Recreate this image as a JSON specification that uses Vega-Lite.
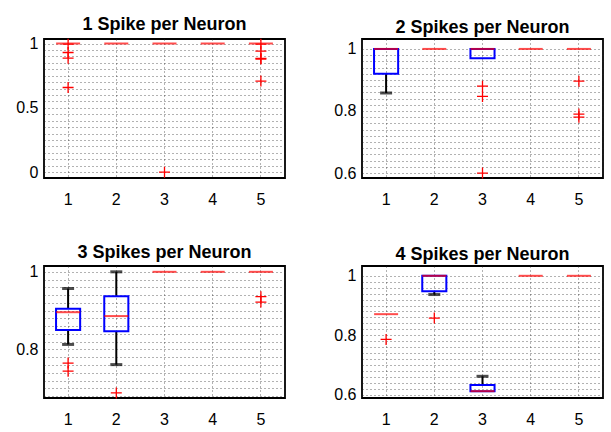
{
  "$schema": "https://vega.github.io/schema/vega-lite/v6.json",
  "padding": {"left": 14, "top": 14, "right": 0, "bottom": 0},
  "background": "white",
  "data": {"values": [
    {"p":1,"g":1,"kind":"median","v":1},
    {"p":1,"g":2,"kind":"median","v":1},
    {"p":1,"g":3,"kind":"median","v":1},
    {"p":1,"g":4,"kind":"median","v":1},
    {"p":1,"g":5,"kind":"median","v":1},
    {"p":1,"g":1,"kind":"outlier","v":0.995},
    {"p":1,"g":1,"kind":"outlier","v":0.93},
    {"p":1,"g":1,"kind":"outlier","v":0.886},
    {"p":1,"g":1,"kind":"outlier","v":0.658},
    {"p":1,"g":3,"kind":"outlier","v":0.0},
    {"p":1,"g":5,"kind":"outlier","v":0.995},
    {"p":1,"g":5,"kind":"outlier","v":0.941},
    {"p":1,"g":5,"kind":"outlier","v":0.885},
    {"p":1,"g":5,"kind":"outlier","v":0.879},
    {"p":1,"g":5,"kind":"outlier","v":0.708},

    {"p":2,"g":1,"kind":"box","v":0.92,"v2":1},
    {"p":2,"g":3,"kind":"box","v":0.97,"v2":1},
    {"p":2,"g":1,"kind":"whisker","v":0.92,"v2":0.858},
    {"p":2,"g":1,"kind":"cap","v":0.858},
    {"p":2,"g":1,"kind":"median","v":1},
    {"p":2,"g":2,"kind":"median","v":1},
    {"p":2,"g":3,"kind":"median","v":1},
    {"p":2,"g":4,"kind":"median","v":1},
    {"p":2,"g":5,"kind":"median","v":1},
    {"p":2,"g":3,"kind":"outlier","v":0.88},
    {"p":2,"g":3,"kind":"outlier","v":0.847},
    {"p":2,"g":3,"kind":"outlier","v":0.6},
    {"p":2,"g":5,"kind":"outlier","v":0.896},
    {"p":2,"g":5,"kind":"outlier","v":0.79},
    {"p":2,"g":5,"kind":"outlier","v":0.78},

    {"p":3,"g":1,"kind":"box","v":0.85,"v2":0.905},
    {"p":3,"g":2,"kind":"box","v":0.847,"v2":0.937},
    {"p":3,"g":1,"kind":"whisker","v":0.85,"v2":0.813},
    {"p":3,"g":1,"kind":"whisker","v":0.905,"v2":0.957},
    {"p":3,"g":2,"kind":"whisker","v":0.847,"v2":0.761},
    {"p":3,"g":2,"kind":"whisker","v":0.937,"v2":1.0},
    {"p":3,"g":1,"kind":"cap","v":0.813},
    {"p":3,"g":1,"kind":"cap","v":0.957},
    {"p":3,"g":2,"kind":"cap","v":0.761},
    {"p":3,"g":2,"kind":"cap","v":1.0},
    {"p":3,"g":1,"kind":"median","v":0.896},
    {"p":3,"g":2,"kind":"median","v":0.886},
    {"p":3,"g":3,"kind":"median","v":1},
    {"p":3,"g":4,"kind":"median","v":1},
    {"p":3,"g":5,"kind":"median","v":1},
    {"p":3,"g":1,"kind":"outlier","v":0.765},
    {"p":3,"g":1,"kind":"outlier","v":0.744},
    {"p":3,"g":2,"kind":"outlier","v":0.688},
    {"p":3,"g":5,"kind":"outlier","v":0.936},
    {"p":3,"g":5,"kind":"outlier","v":0.922},

    {"p":4,"g":2,"kind":"box","v":0.948,"v2":1},
    {"p":4,"g":3,"kind":"box","v":0.612,"v2":0.633},
    {"p":4,"g":2,"kind":"whisker","v":0.948,"v2":0.937},
    {"p":4,"g":3,"kind":"whisker","v":0.633,"v2":0.662},
    {"p":4,"g":2,"kind":"cap","v":0.937},
    {"p":4,"g":3,"kind":"cap","v":0.662},
    {"p":4,"g":1,"kind":"median","v":0.871},
    {"p":4,"g":2,"kind":"median","v":1},
    {"p":4,"g":3,"kind":"median","v":0.612},
    {"p":4,"g":4,"kind":"median","v":1},
    {"p":4,"g":5,"kind":"median","v":1},
    {"p":4,"g":1,"kind":"outlier","v":0.786},
    {"p":4,"g":2,"kind":"outlier","v":0.858}
  ]},
  "config": {
    "view": {"stroke": "black", "strokeWidth": 1.8},
    "font": "Liberation Sans",
    "title": {"font": "Liberation Sans", "fontSize": 18, "fontWeight": "bold", "color": "black", "offset": 2},
    "axis": {"labelFont": "Liberation Sans", "labelFontSize": 16, "labelColor": "black", "domain": false, "ticks": false, "gridDash": [1, 3], "gridColor": "#222", "gridOpacity": 0.7, "gridWidth": 1, "labelPadding": 6, "labelOverlap": false, "format": "~g"},
    "axisX": {"labelPadding": 13}
  },
  "columns": 2,
  "spacing": {"row": 88, "column": 77},
  "bounds": "flush",
  "concat": [
        {
          "width": 241, "height": 139,
          "title": "1 Spike per Neuron",
          "transform": [{"filter": "datum.p == 1"}],
          "encoding": {
            "x": {"field": "g", "type": "ordinal", "scale": {"domain": [1,2,3,4,5], "paddingInner": 0, "paddingOuter": 0}, "axis": {"title": null, "labelAngle": 0, "bandPosition": 0.5, "grid": true}},
            "y": {"field": "v", "type": "quantitative", "scale": {"domain": [-0.045, 1.035], "nice": false, "zero": false}, "axis": {"title": null, "grid": true, "values": [0,0.05,0.1,0.15,0.2,0.25,0.3,0.35,0.4,0.45,0.5,0.55,0.6,0.65,0.7,0.75,0.8,0.85,0.9,0.95,1], "labelExpr": "datum.value == 0 || datum.value == 0.5 || datum.value == 1 ? datum.label : ''"}}
          },
          "layer": [
            {"transform": [{"filter": "datum.kind == 'whisker'"}], "mark": {"type": "rule", "color": "black", "strokeWidth": 2}, "encoding": {"y2": {"field": "v2"}}},
            {"transform": [{"filter": "datum.kind == 'cap'"}], "mark": {"type": "tick", "color": "black", "size": 12, "thickness": 3}},
            {"transform": [{"filter": "datum.kind == 'box'"}], "mark": {"type": "bar", "filled": false, "color": "#0000ff", "strokeWidth": 2, "width": {"band": 0.5}}, "encoding": {"y2": {"field": "v2"}}},
            {"transform": [{"filter": "datum.kind == 'median'"}], "mark": {"type": "tick", "color": "#ff0000", "size": 24, "thickness": 2}},
            {"transform": [{"filter": "datum.kind == 'outlier'"}], "mark": {"type": "point", "shape": "M-1,0L1,0M0,-1L0,1", "size": 121, "filled": false, "color": "#ff0000", "strokeWidth": 1.3, "opacity": 1}}
          ]
        },
        {
          "width": 241, "height": 139,
          "title": "2 Spikes per Neuron",
          "transform": [{"filter": "datum.p == 2"}],
          "encoding": {
            "x": {"field": "g", "type": "ordinal", "scale": {"domain": [1,2,3,4,5], "paddingInner": 0, "paddingOuter": 0}, "axis": {"title": null, "labelAngle": 0, "bandPosition": 0.5, "grid": true}},
            "y": {"field": "v", "type": "quantitative", "scale": {"domain": [0.584, 1.032], "nice": false, "zero": false}, "axis": {"title": null, "grid": true, "values": [0.6,0.62,0.64,0.66,0.68,0.7,0.72,0.74,0.76,0.78,0.8,0.82,0.84,0.86,0.88,0.9,0.92,0.94,0.96,0.98,1], "labelExpr": "datum.value == 0.6 || datum.value == 0.8 || datum.value == 1 ? datum.label : ''"}}
          },
          "layer": [
            {"transform": [{"filter": "datum.kind == 'whisker'"}], "mark": {"type": "rule", "color": "black", "strokeWidth": 2}, "encoding": {"y2": {"field": "v2"}}},
            {"transform": [{"filter": "datum.kind == 'cap'"}], "mark": {"type": "tick", "color": "black", "size": 12, "thickness": 3}},
            {"transform": [{"filter": "datum.kind == 'box'"}], "mark": {"type": "bar", "filled": false, "color": "#0000ff", "strokeWidth": 2, "width": {"band": 0.5}}, "encoding": {"y2": {"field": "v2"}}},
            {"transform": [{"filter": "datum.kind == 'median'"}], "mark": {"type": "tick", "color": "#ff0000", "size": 24, "thickness": 2}},
            {"transform": [{"filter": "datum.kind == 'outlier'"}], "mark": {"type": "point", "shape": "M-1,0L1,0M0,-1L0,1", "size": 121, "filled": false, "color": "#ff0000", "strokeWidth": 1.3, "opacity": 1}}
          ]
        },
        {
          "width": 241, "height": 132,
          "title": "3 Spikes per Neuron",
          "transform": [{"filter": "datum.p == 3"}],
          "encoding": {
            "x": {"field": "g", "type": "ordinal", "scale": {"domain": [1,2,3,4,5], "paddingInner": 0, "paddingOuter": 0}, "axis": {"title": null, "labelAngle": 0, "bandPosition": 0.5, "grid": true}},
            "y": {"field": "v", "type": "quantitative", "scale": {"domain": [0.675, 1.015], "nice": false, "zero": false}, "axis": {"title": null, "grid": true, "values": [0.68,0.7,0.72,0.74,0.76,0.78,0.8,0.82,0.84,0.86,0.88,0.9,0.92,0.94,0.96,0.98,1], "labelExpr": "datum.value == 0.8 || datum.value == 1 ? datum.label : ''"}}
          },
          "layer": [
            {"transform": [{"filter": "datum.kind == 'whisker'"}], "mark": {"type": "rule", "color": "black", "strokeWidth": 2}, "encoding": {"y2": {"field": "v2"}}},
            {"transform": [{"filter": "datum.kind == 'cap'"}], "mark": {"type": "tick", "color": "black", "size": 12, "thickness": 3}},
            {"transform": [{"filter": "datum.kind == 'box'"}], "mark": {"type": "bar", "filled": false, "color": "#0000ff", "strokeWidth": 2, "width": {"band": 0.5}}, "encoding": {"y2": {"field": "v2"}}},
            {"transform": [{"filter": "datum.kind == 'median'"}], "mark": {"type": "tick", "color": "#ff0000", "size": 24, "thickness": 2}},
            {"transform": [{"filter": "datum.kind == 'outlier'"}], "mark": {"type": "point", "shape": "M-1,0L1,0M0,-1L0,1", "size": 121, "filled": false, "color": "#ff0000", "strokeWidth": 1.3, "opacity": 1}}
          ]
        },
        {
          "width": 241, "height": 132,
          "title": "4 Spikes per Neuron",
          "transform": [{"filter": "datum.p == 4"}],
          "encoding": {
            "x": {"field": "g", "type": "ordinal", "scale": {"domain": [1,2,3,4,5], "paddingInner": 0, "paddingOuter": 0}, "axis": {"title": null, "labelAngle": 0, "bandPosition": 0.5, "grid": true}},
            "y": {"field": "v", "type": "quantitative", "scale": {"domain": [0.589, 1.033], "nice": false, "zero": false}, "axis": {"title": null, "grid": true, "values": [0.6,0.62,0.64,0.66,0.68,0.7,0.72,0.74,0.76,0.78,0.8,0.82,0.84,0.86,0.88,0.9,0.92,0.94,0.96,0.98,1], "labelExpr": "datum.value == 0.6 || datum.value == 0.8 || datum.value == 1 ? datum.label : ''"}}
          },
          "layer": [
            {"transform": [{"filter": "datum.kind == 'whisker'"}], "mark": {"type": "rule", "color": "black", "strokeWidth": 2}, "encoding": {"y2": {"field": "v2"}}},
            {"transform": [{"filter": "datum.kind == 'cap'"}], "mark": {"type": "tick", "color": "black", "size": 12, "thickness": 3}},
            {"transform": [{"filter": "datum.kind == 'box'"}], "mark": {"type": "bar", "filled": false, "color": "#0000ff", "strokeWidth": 2, "width": {"band": 0.5}}, "encoding": {"y2": {"field": "v2"}}},
            {"transform": [{"filter": "datum.kind == 'median'"}], "mark": {"type": "tick", "color": "#ff0000", "size": 24, "thickness": 2}},
            {"transform": [{"filter": "datum.kind == 'outlier'"}], "mark": {"type": "point", "shape": "M-1,0L1,0M0,-1L0,1", "size": 121, "filled": false, "color": "#ff0000", "strokeWidth": 1.3, "opacity": 1}}
          ]
        }
  ]
}
